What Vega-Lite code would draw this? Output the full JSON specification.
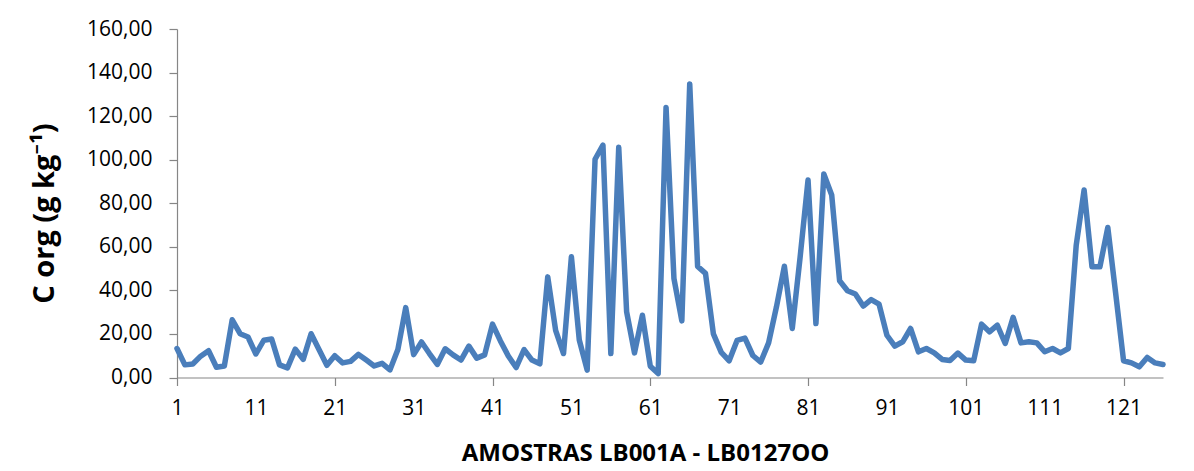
{
  "$schema": "https://vega.github.io/schema/vega-lite/v6.json",
  "width": 986,
  "height": 348.5,
  "autosize": {"type": "none"},
  "padding": {"left": 177, "top": 29, "right": 31, "bottom": 93},
  "background": "white",
  "config": {"view": {"stroke": null}, "font": "Open Sans"},
  "data": {"values": [
    {"amostra": 1, "corg": 13.3}, {"amostra": 2, "corg": 5.8}, {"amostra": 3, "corg": 6.2}, {"amostra": 4, "corg": 9.8},
    {"amostra": 5, "corg": 12.3}, {"amostra": 6, "corg": 4.7}, {"amostra": 7, "corg": 5.3}, {"amostra": 8, "corg": 26.5},
    {"amostra": 9, "corg": 20.1}, {"amostra": 10, "corg": 18.6}, {"amostra": 11, "corg": 10.8}, {"amostra": 12, "corg": 17.1},
    {"amostra": 13, "corg": 17.7}, {"amostra": 14, "corg": 5.8}, {"amostra": 15, "corg": 4.4}, {"amostra": 16, "corg": 13.0},
    {"amostra": 17, "corg": 8.3}, {"amostra": 18, "corg": 20.1}, {"amostra": 19, "corg": 12.9}, {"amostra": 20, "corg": 5.6},
    {"amostra": 21, "corg": 10.0}, {"amostra": 22, "corg": 6.7}, {"amostra": 23, "corg": 7.4}, {"amostra": 24, "corg": 10.6},
    {"amostra": 25, "corg": 8.0}, {"amostra": 26, "corg": 5.3}, {"amostra": 27, "corg": 6.5}, {"amostra": 28, "corg": 3.5},
    {"amostra": 29, "corg": 12.9}, {"amostra": 30, "corg": 32.1}, {"amostra": 31, "corg": 10.5}, {"amostra": 32, "corg": 16.3},
    {"amostra": 33, "corg": 11.0}, {"amostra": 34, "corg": 6.0}, {"amostra": 35, "corg": 13.2}, {"amostra": 36, "corg": 10.4},
    {"amostra": 37, "corg": 8.0}, {"amostra": 38, "corg": 14.4}, {"amostra": 39, "corg": 8.9}, {"amostra": 40, "corg": 10.4},
    {"amostra": 41, "corg": 24.5}, {"amostra": 42, "corg": 16.8}, {"amostra": 43, "corg": 9.9}, {"amostra": 44, "corg": 4.6},
    {"amostra": 45, "corg": 12.8}, {"amostra": 46, "corg": 8.0}, {"amostra": 47, "corg": 6.3}, {"amostra": 48, "corg": 46.2},
    {"amostra": 49, "corg": 21.6}, {"amostra": 50, "corg": 11.0}, {"amostra": 51, "corg": 55.4}, {"amostra": 52, "corg": 17.2},
    {"amostra": 53, "corg": 3.4}, {"amostra": 54, "corg": 100.2}, {"amostra": 55, "corg": 106.7}, {"amostra": 56, "corg": 11.0},
    {"amostra": 57, "corg": 105.7}, {"amostra": 58, "corg": 30.2}, {"amostra": 59, "corg": 11.3}, {"amostra": 60, "corg": 28.6},
    {"amostra": 61, "corg": 5.2}, {"amostra": 62, "corg": 1.8}, {"amostra": 63, "corg": 124.0}, {"amostra": 64, "corg": 45.5},
    {"amostra": 65, "corg": 26.0}, {"amostra": 66, "corg": 134.8}, {"amostra": 67, "corg": 51.0}, {"amostra": 68, "corg": 47.8},
    {"amostra": 69, "corg": 20.0}, {"amostra": 70, "corg": 11.5}, {"amostra": 71, "corg": 7.7}, {"amostra": 72, "corg": 17.0},
    {"amostra": 73, "corg": 18.1}, {"amostra": 74, "corg": 10.1}, {"amostra": 75, "corg": 7.1}, {"amostra": 76, "corg": 15.9},
    {"amostra": 77, "corg": 32.5}, {"amostra": 78, "corg": 51.1}, {"amostra": 79, "corg": 22.5}, {"amostra": 80, "corg": 55.4},
    {"amostra": 81, "corg": 90.7}, {"amostra": 82, "corg": 24.8}, {"amostra": 83, "corg": 93.4}, {"amostra": 84, "corg": 83.8},
    {"amostra": 85, "corg": 44.4}, {"amostra": 86, "corg": 39.8}, {"amostra": 87, "corg": 38.3}, {"amostra": 88, "corg": 32.8},
    {"amostra": 89, "corg": 35.8}, {"amostra": 90, "corg": 33.7}, {"amostra": 91, "corg": 19.4}, {"amostra": 92, "corg": 14.4},
    {"amostra": 93, "corg": 16.4}, {"amostra": 94, "corg": 22.5}, {"amostra": 95, "corg": 11.8}, {"amostra": 96, "corg": 13.3},
    {"amostra": 97, "corg": 11.3}, {"amostra": 98, "corg": 8.3}, {"amostra": 99, "corg": 7.8}, {"amostra": 100, "corg": 11.2},
    {"amostra": 101, "corg": 8.0}, {"amostra": 102, "corg": 7.7}, {"amostra": 103, "corg": 24.5}, {"amostra": 104, "corg": 21.0},
    {"amostra": 105, "corg": 24.0}, {"amostra": 106, "corg": 15.6}, {"amostra": 107, "corg": 27.6}, {"amostra": 108, "corg": 15.9},
    {"amostra": 109, "corg": 16.4}, {"amostra": 110, "corg": 15.9}, {"amostra": 111, "corg": 11.8}, {"amostra": 112, "corg": 13.3},
    {"amostra": 113, "corg": 11.3}, {"amostra": 114, "corg": 13.3}, {"amostra": 115, "corg": 60.8}, {"amostra": 116, "corg": 86.1},
    {"amostra": 117, "corg": 50.8}, {"amostra": 118, "corg": 50.8}, {"amostra": 119, "corg": 68.9}, {"amostra": 120, "corg": 38.6},
    {"amostra": 121, "corg": 7.7}, {"amostra": 122, "corg": 6.7}, {"amostra": 123, "corg": 4.9}, {"amostra": 124, "corg": 9.2},
    {"amostra": 125, "corg": 6.7}, {"amostra": 126, "corg": 6.0}
  ]},
  "mark": {"type": "line", "color": "#4a7ebb", "strokeWidth": 5.5, "strokeCap": "round", "strokeJoin": "round", "clip": false},
  "encoding": {
    "x": {
      "field": "amostra", "type": "quantitative",
      "scale": {"domain": [1, 126], "nice": false, "zero": false},
      "axis": {
        "values": [1, 11, 21, 31, 41, 51, 61, 71, 81, 91, 101, 111, 121],
        "grid": false,
        "domainColor": "#868686", "domainWidth": 1.2,
        "tickColor": "#868686", "tickSize": 8, "tickWidth": 1.2,
        "tickOpacity": {"condition": {"test": "datum.value % 20 === 1", "value": 1}, "value": 0},
        "labelFont": "Open Sans", "labelFontSize": 21, "labelColor": "#000000",
        "labelPadding": 12, "labelFlush": false, "labelOverlap": false,
        "title": "AMOSTRAS  LB001A - LB0127OO",
        "titleFont": "Open Sans", "titleFontSize": 24, "titleFontWeight": "bold", "titleColor": "#000000",
        "titleX": 468, "titleY": 76, "titleBaseline": "middle", "titleAlign": "center"
      }
    },
    "y": {
      "field": "corg", "type": "quantitative",
      "scale": {"domain": [0, 160], "nice": false},
      "axis": {
        "values": [0, 20, 40, 60, 80, 100, 120, 140, 160],
        "labelExpr": "replace(format(datum.value, '.2f'), '.', ',')",
        "grid": false,
        "domainColor": "#868686", "domainWidth": 1.2,
        "tickColor": "#868686", "tickSize": 8, "tickWidth": 1.2,
        "labelFont": "Open Sans", "labelFontSize": 21, "labelColor": "#000000",
        "labelPadding": 17, "labelOverlap": false,
        "title": "C org (g kg⁻¹)",
        "titleFont": "Open Sans, Noto Sans, DejaVu Sans", "titleFontSize": 29, "titleFontWeight": "bold", "titleColor": "#000000",
        "titleX": -133, "titleY": 184, "titleBaseline": "middle", "titleAlign": "center", "titleAngle": 270
      }
    }
  }
}
